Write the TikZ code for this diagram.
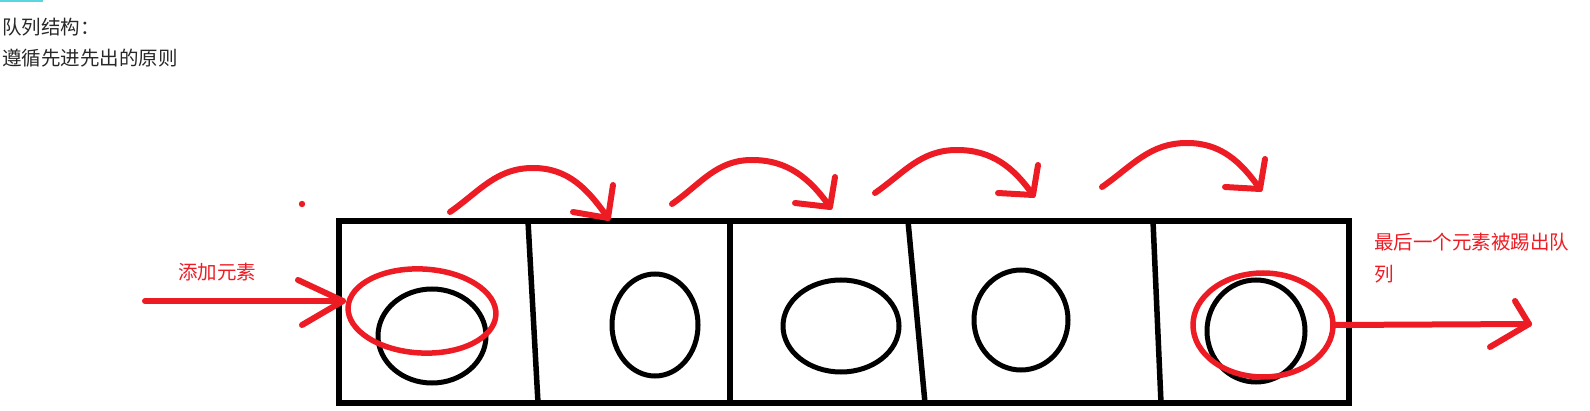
\documentclass[tikz,border=0pt]{standalone}
\usepackage{fontspec}
\setmainfont{Noto Sans CJK SC}
\usetikzlibrary{shapes.geometric}
\definecolor{paintred}{RGB}{237,28,36}
\definecolor{txtgray}{RGB}{40,40,40}
\definecolor{tabcyan}{RGB}{90,214,224}

\begin{document}
\begin{tikzpicture}[x=1pt,y=1pt,
	ball/.style={shape=ellipse,draw=black,line width=5pt,inner sep=0pt},
	ring/.style={shape=ellipse,draw=paintred,line width=5.5pt,inner sep=0pt},
	stroke/.style={draw=paintred,line width=6pt,line cap=round,line join=round},
	wall/.style={draw=black,line width=5.5pt,line cap=round},
	label/.style={font=\fontsize{19.5}{32}\selectfont,inner sep=0pt,anchor=base west}]
	
	\useasboundingbox (0,0) rectangle (1590,-411);
	
	\fill[tabcyan] (0,0) rectangle (43,-2.5);
	\node[label,text=txtgray] (title) at (2,-35) {队列结构：};
	\node[label,text=txtgray] (rule)  at (2,-66) {遵循先进先出的原则};
	
	% the queue and its cells
	\node[shape=rectangle,draw=black,line width=5.5pt,minimum width=1010pt,minimum height=182pt,inner sep=0pt] (queue) at (844,-312) {};
	\draw[wall] (528,-221) -- (538,-403);
	\draw[wall] (730,-221) -- (730,-403);
	\draw[wall] (908,-221) -- (925,-403);
	\draw[wall] (1153,-221) -- (1161,-403);
	
	\node[ball,minimum width=108pt,minimum height=94pt]  (e1) at (432,-336)  {};
	\node[ball,minimum width=86pt,minimum height=102pt]  (e2) at (655,-325)  {};
	\node[ball,minimum width=116pt,minimum height=92pt]  (e3) at (841,-326)  {};
	\node[ball,minimum width=94pt,minimum height=100pt]  (e4) at (1021,-320) {};
	\node[ball,minimum width=98pt,minimum height=102pt]  (e5) at (1256,-331) {};
	
	\node[ring,minimum width=148pt,minimum height=84pt,rotate=-3] (first) at (422,-311)  {};
	\node[ring,minimum width=140pt,minimum height=104pt]          (last)  at (1263,-325) {};
	
	\fill[paintred] (302,-204) circle (3.2);
	
	% adding an element
	\node[label,text=paintred] (add) at (178,-280) {添加元素};
	\coordinate (addtail) at (145,-301);
	\coordinate (addtip) at (343,-301);
	\draw[stroke] (addtail) -- (addtip);
	\draw[stroke] (298,-280) -- (addtip) -- (302,-325);
	
	% the last element leaves
	\node[label,text=paintred,align=left] (kick) at (1374,-282) {最后一个元素被踢出队\\列};
	\coordinate (outtip) at (1529,-324);
	\draw[stroke] (last.east) -- (outtip);
	\draw[stroke] (1515,-301) -- (outtip) -- (1490,-347);
	
	% moving along
	\coordinate (h1) at (608,-218);
	\coordinate (h2) at (830,-207);
	\coordinate (h3) at (1033,-195);
	\coordinate (h4) at (1260,-189);
	\draw[stroke] (450,-212) to[out=35,in=180] (533,-168) to[out=0,in=125] (h1);
	\draw[stroke] (613,-185) -- (h1) -- (573,-212);
	\draw[stroke] (672,-204) to[out=35,in=180] (752,-160) to[out=0,in=125] (h2);
	\draw[stroke] (835,-177) -- (h2) -- (795,-203);
	\draw[stroke] (875,-193) to[out=35,in=180] (957,-150) to[out=0,in=125] (h3);
	\draw[stroke] (1038,-165) -- (h3) -- (998,-193);
	\draw[stroke] (1102,-187) to[out=35,in=180] (1187,-143) to[out=0,in=125] (h4);
	\draw[stroke] (1265,-159) -- (h4) -- (1225,-187);
	
\end{tikzpicture}
\end{document}
